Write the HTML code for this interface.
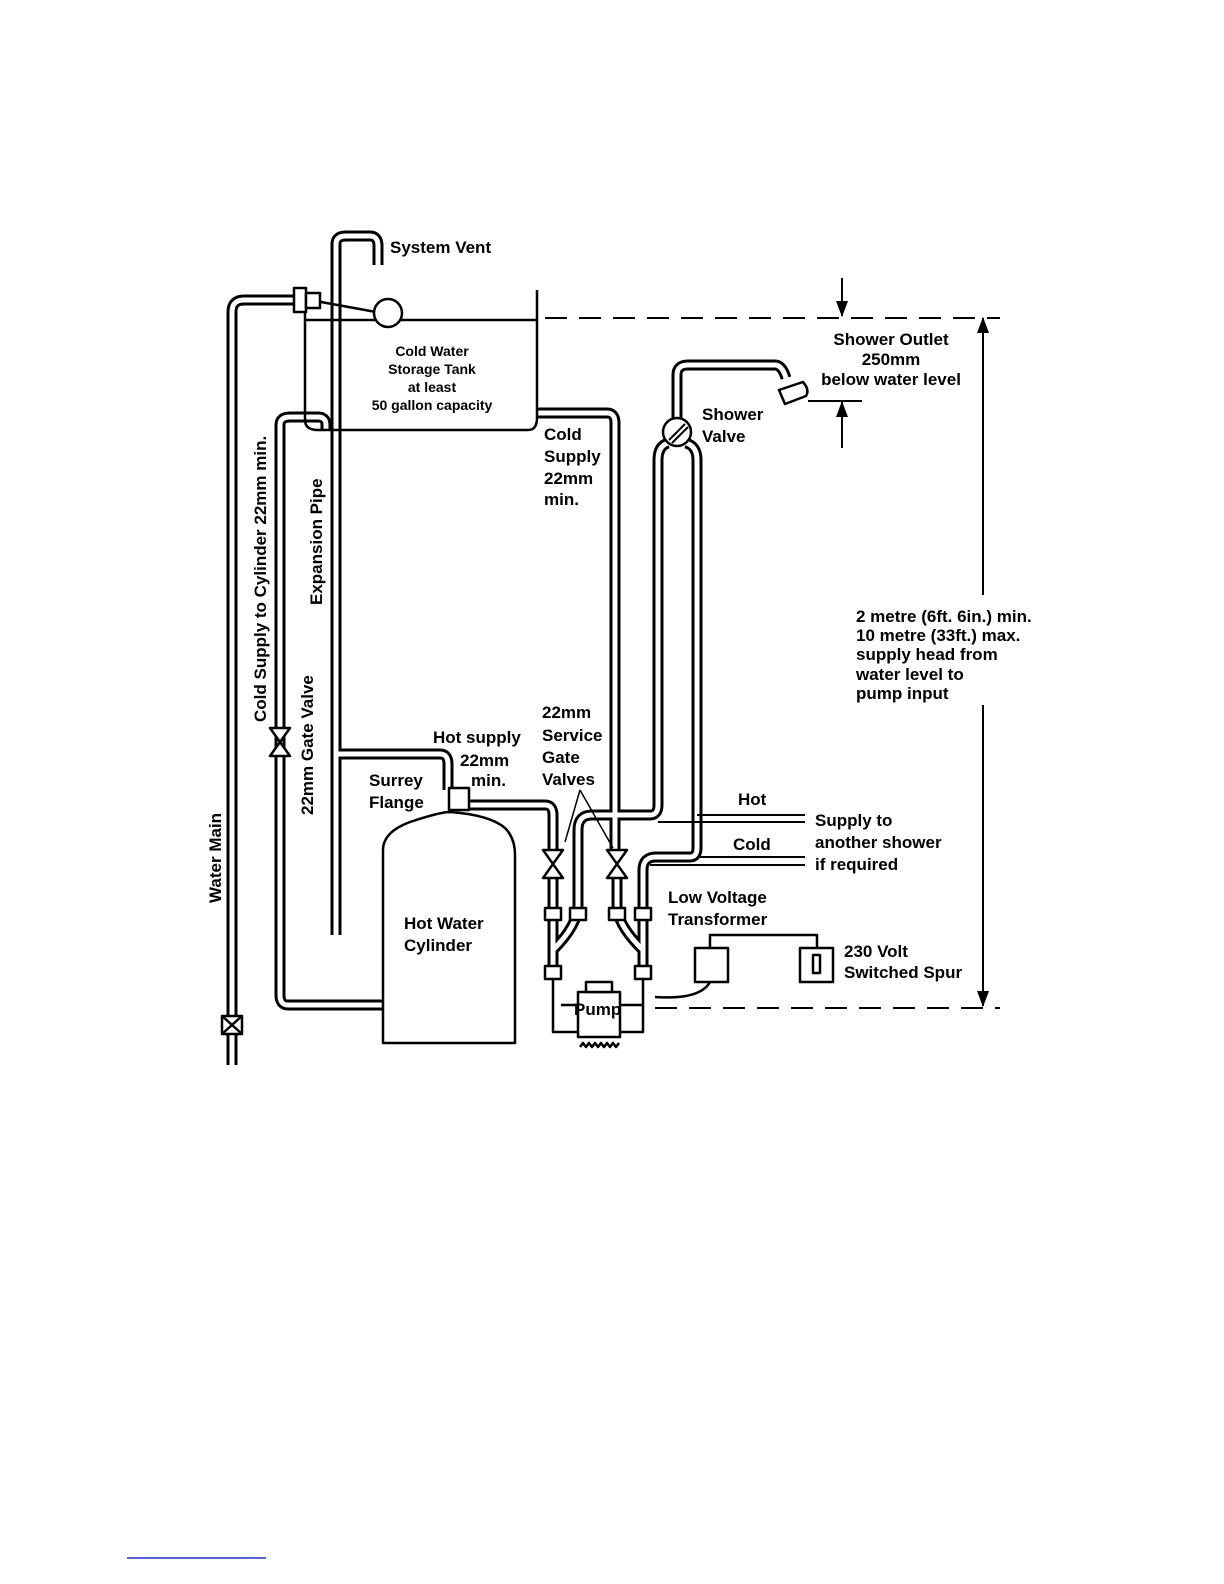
<!DOCTYPE html>
<html><head><style>
html,body{margin:0;padding:0;background:#fff;}
svg{display:block;}
text{font-family:"Liberation Sans",Arial,sans-serif;font-weight:bold;fill:#000;}
</style></head><body>
<svg width="1224" height="1584" viewBox="0 0 1224 1584" xmlns="http://www.w3.org/2000/svg">
<defs>
<marker id="ah" markerWidth="16" markerHeight="12" refX="15" refY="6" orient="auto" markerUnits="userSpaceOnUse">
<path d="M0,0 L16,6 L0,12 Z" fill="#000"/>
</marker>
</defs>
<g fill="none" stroke-linejoin="round" stroke-linecap="butt">
<g stroke="#000" stroke-width="11">
<path d="M232,1065 V312 Q232,300 244,300 H300"/>
<path d="M336,935 V244 Q336,236 346,236 H370 Q378,236 378,246 V265"/>
<path d="M383,1005 H288 Q280,1005 280,995 V425 Q280,417 290,417 H318 Q326,417 326,425 V430"/>
<path d="M336,754 H440 Q448,754 448,764 V790"/>
<path d="M470,805 H545 Q553,805 553,815 V852"/>
<path d="M537,413 H607 Q615,413 615,423 V850"/>
<path d="M553,875 V970 M578,875 V905 Q578,925 553,950 V970"/>
<path d="M617,875 V905 Q617,925 643,950 V970 M643,965 V870 Q643,857 656,857 H690 Q697,857 697,848 V460 Q697,446 686,443"/>
<path d="M578,905 V830 Q578,815 592,815 H650 Q658,815 658,805 V460 Q658,446 668,443"/>
<path d="M677,420 V375 Q677,365 688,365 H775 Q782,365 786,378"/>
</g>
<g stroke="#fff" stroke-width="5">
<path d="M232,1065 V312 Q232,300 244,300 H300"/>
<path d="M336,935 V244 Q336,236 346,236 H370 Q378,236 378,246 V265"/>
<path d="M383,1005 H288 Q280,1005 280,995 V425 Q280,417 290,417 H318 Q326,417 326,425 V430"/>
<path d="M336,754 H440 Q448,754 448,764 V790"/>
<path d="M470,805 H545 Q553,805 553,815 V852"/>
<path d="M537,413 H607 Q615,413 615,423 V850"/>
<path d="M553,875 V970 M578,875 V905 Q578,925 553,950 V970"/>
<path d="M617,875 V905 Q617,925 643,950 V970 M643,965 V870 Q643,857 656,857 H690 Q697,857 697,848 V460 Q697,446 686,443"/>
<path d="M578,905 V830 Q578,815 592,815 H650 Q658,815 658,805 V460 Q658,446 668,443"/>
<path d="M677,420 V375 Q677,365 688,365 H775 Q782,365 786,378"/>
</g>
<g stroke="#000" stroke-width="2.5">
<path d="M305,300 V420 Q305,430 318,430 H528 Q537,430 537,418 V290"/>
<path d="M305,320 H537"/>
<path d="M310,300 L376,312"/>
<circle cx="388" cy="313" r="14" fill="#fff"/>
<rect x="294" y="288" width="12" height="24" fill="#fff"/>
<rect x="306" y="293" width="14" height="15" fill="#fff"/>
<path d="M383,1043 V850 Q383,832 410,822 Q440,812 450,812 Q490,815 505,828 Q515,838 515,855 V1043 Z" fill="#fff"/>
<rect x="449" y="788" width="20" height="22" fill="#fff"/>
<path d="M222,1016 H242 V1034 H222 Z M222,1016 L242,1034 M242,1016 L222,1034" fill="#fff"/>
<path d="M270,728 H290 L270,756 H290 Z" fill="#fff"/>
<path d="M543,850 H563 L543,878 H563 Z" fill="#fff"/>
<path d="M607,850 H627 L607,878 H627 Z" fill="#fff"/>
<rect x="545" y="908" width="16" height="12" fill="#fff"/>
<rect x="570" y="908" width="16" height="12" fill="#fff"/>
<rect x="609" y="908" width="16" height="12" fill="#fff"/>
<rect x="635" y="908" width="16" height="12" fill="#fff"/>
<rect x="545" y="966" width="16" height="13" fill="#fff"/>
<rect x="635" y="966" width="16" height="13" fill="#fff"/>
<path d="M553,979 V1032 H578 M620,1032 H643 V979"/>
<path d="M561,1005 H578 M620,1005 H643"/>
<rect x="578" y="992" width="42" height="45" fill="#fff"/>
<rect x="586" y="982" width="26" height="10" fill="#fff"/>
<path d="M580,1047 l3,-4 3,4 3,-4 3,4 3,-4 3,4 3,-4 3,4 3,-4 3,4 3,-4 3,4 3,-4"/>
<circle cx="677" cy="432" r="14" fill="#fff"/>
<path d="M669,440 L685,424 M672,443 L688,427" stroke-width="2"/>
<path d="M779,390 L803,382 Q810,390 806,396 L785,404 Z" fill="#fff"/>
<path d="M697,815 H805 M658,822 H805" stroke-width="2"/>
<path d="M697,857 H805 M650,865 H805" stroke-width="2"/>
<rect x="695" y="948" width="33" height="34" fill="#fff"/>
<rect x="800" y="948" width="33" height="34" fill="#fff"/>
<rect x="813" y="955" width="7" height="18"/>
<path d="M710,948 V935 H817 V948"/>
<path d="M710,982 Q700,1000 655,997"/>
<path d="M545,318 H1000" stroke-dasharray="22,12" stroke-width="2"/>
<path d="M655,1008 H1000" stroke-dasharray="22,12" stroke-width="2"/>
<path d="M842,278 V316" marker-end="url(#ah)" stroke-width="2"/>
<path d="M842,448 V402" marker-end="url(#ah)" stroke-width="2"/>
<path d="M808,401 H862" stroke-width="2"/>
<path d="M983,595 V318" marker-end="url(#ah)" stroke-width="2"/>
<path d="M983,705 V1006" marker-end="url(#ah)" stroke-width="2"/>
<path d="M580,790 L565,842 M580,790 L613,848" stroke-width="1.5"/>
</g>
<line x1="127" y1="1558" x2="266" y2="1558" stroke="#2233cc" stroke-width="1.5"/>
</g>
<g font-size="17">
<text x="390" y="253">System Vent</text>
<text x="432" y="356" font-size="14" text-anchor="middle">Cold Water</text>
<text x="432" y="374" font-size="14" text-anchor="middle">Storage Tank</text>
<text x="432" y="392" font-size="14" text-anchor="middle">at least</text>
<text x="432" y="410" font-size="14" text-anchor="middle">50 gallon capacity</text>
<text x="544" y="440">Cold</text><text x="544" y="462">Supply</text>
<text x="544" y="484">22mm</text><text x="544" y="505">min.</text>
<text x="891" y="345" text-anchor="middle">Shower Outlet</text>
<text x="891" y="365" text-anchor="middle">250mm</text>
<text x="891" y="385" text-anchor="middle">below water level</text>
<text x="702" y="420">Shower</text><text x="702" y="442">Valve</text>
<text x="856" y="622">2 metre (6ft. 6in.) min.</text>
<text x="856" y="641">10 metre (33ft.) max.</text>
<text x="856" y="660">supply head from</text>
<text x="856" y="680">water level to</text>
<text x="856" y="699">pump input</text>
<text x="542" y="718">22mm</text><text x="542" y="741">Service</text>
<text x="542" y="763">Gate</text><text x="542" y="785">Valves</text>
<text x="433" y="743">Hot supply</text>
<text x="460" y="766">22mm</text><text x="471" y="786">min.</text>
<text x="369" y="786">Surrey</text><text x="369" y="808">Flange</text>
<text x="738" y="805">Hot</text><text x="733" y="850">Cold</text>
<text x="815" y="826">Supply to</text>
<text x="815" y="848">another shower</text>
<text x="815" y="870">if required</text>
<text x="668" y="903">Low Voltage</text><text x="668" y="925">Transformer</text>
<text x="844" y="957">230 Volt</text><text x="844" y="978">Switched Spur</text>
<text x="404" y="929">Hot Water</text><text x="404" y="951">Cylinder</text>
<text x="574" y="1015">Pump</text>
<text transform="translate(266,722) rotate(-90)">Cold Supply to Cylinder 22mm min.</text>
<text transform="translate(322,605) rotate(-90)">Expansion Pipe</text>
<text transform="translate(313,815) rotate(-90)">22mm Gate Valve</text>
<text transform="translate(221,903) rotate(-90)">Water Main</text>
</g>
</svg>
</body></html>
